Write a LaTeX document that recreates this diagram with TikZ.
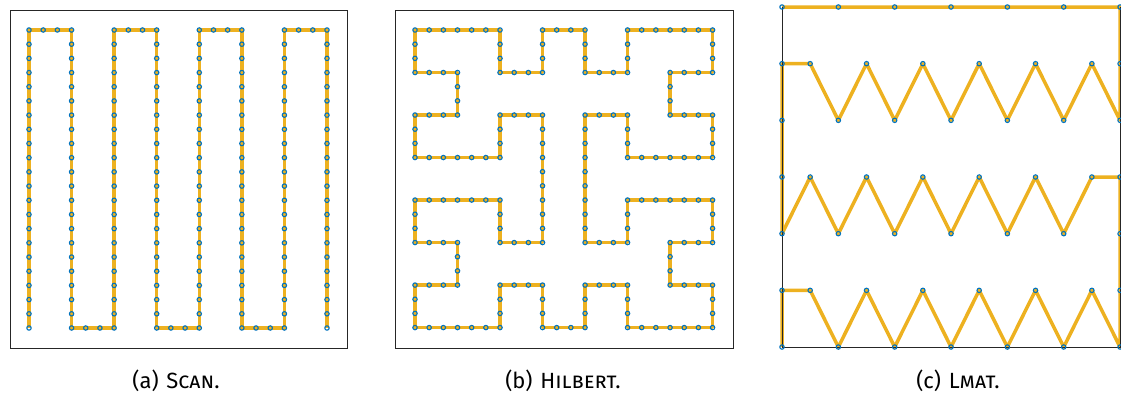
\documentclass[tikz,border=0pt]{standalone}
\usepackage{fontspec}
\setmainfont{Fira Sans}
\usepackage{xcolor}
\definecolor{curveyellow}{HTML}{EDB120}
\definecolor{markblue}{HTML}{0072BD}
\definecolor{axisgray}{HTML}{262626}

\begin{document}
\begin{tikzpicture}[
    x=1pt, y=-1pt,
    curve/.style={draw=curveyellow, line width=3.5pt, line join=round},
    mk/.style={draw=markblue, line width=1.1pt},
    frame/.style={draw=axisgray, line width=1pt},
    caption/.style={font=\fontsize{22}{26}\selectfont, anchor=base}
]
    \useasboundingbox (0,0) rectangle (1121,394);

    \draw[frame] (10,10) rectangle (347,348);
    \begin{scope}[shift={(29,30)}, x=14.19pt, y=-14.19pt]
        \draw[curve] (0,21) -- (0,0) -- (3,0) -- (3,21) -- (6,21) -- (6,0) -- (9,0) -- (9,21)
            -- (12,21) -- (12,0) -- (15,0) -- (15,21) -- (18,21) -- (18,0) -- (21,0) -- (21,21);
        \foreach \c in {0,3,...,21}
            \foreach \r in {0,...,21}
                \draw[mk] (\c,\r) circle[radius=2.2pt];
        \foreach \c/\r in {1/0,2/0,4/21,5/21,7/0,8/0,10/21,11/21,13/0,14/0,16/21,17/21,19/0,20/0}
            \draw[mk] (\c,\r) circle[radius=2.2pt];
    \end{scope}

    \draw[frame] (395,10) rectangle (733,348);
    \begin{scope}[shift={(415,30)}, x=42.51pt, y=-42.51pt]
        \draw[curve] (0,0) -- (2,0) -- (2,1) -- (3,1) -- (3,0) -- (4,0) -- (4,1) -- (5,1) -- (5,0)
            -- (7,0) -- (7,1) -- (6,1) -- (6,2) -- (7,2) -- (7,3) -- (5,3) -- (5,2) -- (4,2)
            -- (4,5) -- (5,5) -- (5,4) -- (7,4) -- (7,5) -- (6,5) -- (6,6) -- (7,6) -- (7,7)
            -- (5,7) -- (5,6) -- (4,6) -- (4,7) -- (3,7) -- (3,6) -- (2,6) -- (2,7) -- (0,7)
            -- (0,6) -- (1,6) -- (1,5) -- (0,5) -- (0,4) -- (2,4) -- (2,5) -- (3,5) -- (3,2)
            -- (2,2) -- (2,3) -- (0,3) -- (0,2) -- (1,2) -- (1,1) -- (0,1) -- cycle;
        \foreach \x/\y [remember=\x as \lx (initially 0), remember=\y as \ly (initially 0)] in
            {2/0,2/1,3/1,3/0,4/0,4/1,5/1,5/0,7/0,7/1,6/1,6/2,7/2,7/3,5/3,5/2,4/2,
             4/5,5/5,5/4,7/4,7/5,6/5,6/6,7/6,7/7,5/7,5/6,4/6,4/7,3/7,3/6,2/6,2/7,0/7,
             0/6,1/6,1/5,0/5,0/4,2/4,2/5,3/5,3/2,2/2,2/3,0/3,0/2,1/2,1/1,0/1,0/0} {
            \pgfmathtruncatemacro\nsteps{3*abs(\x-\lx)+3*abs(\y-\ly)}
            \foreach \k in {1,...,\nsteps}
                \draw[mk] ({\lx+(\x-\lx)*\k/\nsteps},{\ly+(\y-\ly)*\k/\nsteps}) circle[radius=2.2pt];
        }
    \end{scope}

    \begin{scope}[shift={(782,7)}, x=28.17pt, y=-56.67pt]
        \draw[curve] (0,6) -- (0,5) foreach \c in {1,3,...,11} { -- (\c,5) -- ({\c+1},6) }
            -- (12,3) foreach \c in {11,9,...,1} { -- (\c,3) -- ({\c-1},4) }
            -- (0,1) foreach \c in {1,3,...,11} { -- (\c,1) -- ({\c+1},2) }
            -- (12,0) -- (0,0);
        \draw[frame] (0,0) -- (0,6) -- (12,6) -- (12,0);
        \foreach \r in {0,2,4,6}
            \foreach \c in {0,2,...,12}
                \draw[mk] (\c,\r) circle[radius=2.2pt];
        \foreach \r in {1,3,5}
            \foreach \c in {0,1,3,5,7,9,11,12}
                \draw[mk] (\c,\r) circle[radius=2.2pt];
    \end{scope}

    \node[caption] (cap-a) at (176,388) {(a)\hspace{0.35em}\textsc{Scan.}};
    \node[caption] (cap-b) at (563,388) {(b)\hspace{0.35em}\textsc{Hilbert.}};
    \node[caption] (cap-c) at (958,388) {(c)\hspace{0.35em}\textsc{Lmat.}};
\end{tikzpicture}
\end{document}
